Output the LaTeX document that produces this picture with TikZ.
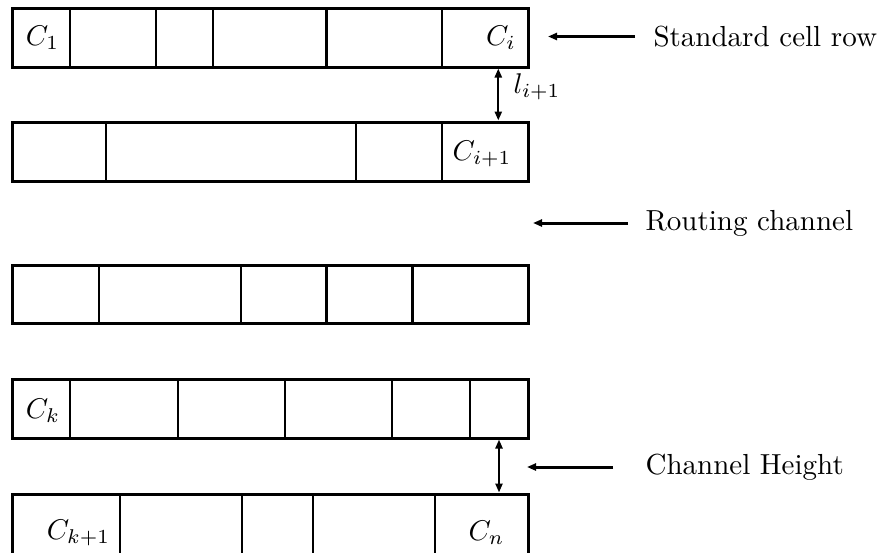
\documentclass[tikz,border=0pt]{standalone}
\usetikzlibrary{arrows.meta}
\begin{document}
\begin{tikzpicture}[x=1pt,y=-1pt,
  rowbox/.style={draw, line width=3pt, minimum width=516pt, inner sep=0pt},
  divider/.style={line width=2.3pt},
  cellname/.style={scale=2.85, inner sep=0pt, anchor=base},
  caption/.style={scale=2.9, inner sep=0pt, anchor=west},
  pointer/.style={line width=3pt, -{Triangle[length=9pt,width=7pt]}},
  gap/.style={line width=2.2pt, {Triangle[length=9pt,width=7pt]}-{Triangle[length=9pt,width=7pt]}},
]
\useasboundingbox (0,0) rectangle (883,552);

% cell rows
\node[rowbox, minimum height=59pt] (r1) at (270,37.5) {};
\node[rowbox, minimum height=59pt] (r2) at (270,151.5) {};
\node[rowbox, minimum height=58pt] (r3) at (270,294) {};
\node[rowbox, minimum height=59pt] (r4) at (270,408.5) {};
\node[rowbox, minimum height=62pt] (r5) at (270,525) {};

% cell boundaries inside the rows
\foreach \x in {70,156,213,326.5,442} \draw[divider] (\x,8) -- (\x,67);
\foreach \x in {105.7,355.7,441.8} \draw[divider] (\x,122) -- (\x,181);
\foreach \x in {98.8,241,326.4,412.5} \draw[divider] (\x,265) -- (\x,323);
\foreach \x in {70,177.7,284.8,391.9,470} \draw[divider] (\x,379.5) -- (\x,438);
\foreach \x in {119.8,241.7,312.7,435} \draw[divider] (\x,494) -- (\x,556);

% cell names
\node[cellname] (c1) at (42.5,45.5) {$C_1$};
\node[cellname] (ci) at (501,45) {$C_i$};
\node[cellname] (ci1) at (482,160) {$C_{i+1}$};
\node[cellname] (ck) at (43,418) {$C_k$};
\node[cellname] (ck1) at (78.5,539) {$C_{k+1}$};
\node[cellname] (cn) at (486.5,540) {$C_n$};

% row spacing markers
\coordinate (g1) at (498.3,0);
\coordinate (g2) at (499,0);
\draw[gap] (r1.south -| g1) -- (r2.north -| g1);
\draw[gap] (r4.south -| g2) -- (r5.north -| g2);
\node[cellname, anchor=base west] (li) at (513,93) {$l_{i+1}$};

% captions with pointers
\node[caption] (cap1) at (653,36.5) {Standard cell row};
\node[caption] (cap2) at (645,223) {Routing channel};
\node[caption] (cap3) at (645,467) {Channel Height};
\coordinate (t1) at (548,0);
\coordinate (t2) at (533,0);
\coordinate (t3) at (527,0);
\draw[pointer, shorten <=18pt] (cap1.west) -- (cap1.west -| t1);
\draw[pointer, shorten <=17pt] (cap2.west) -- (cap2.west -| t2);
\draw[pointer, shorten <=32pt] (cap3.west) -- (cap3.west -| t3);
\end{tikzpicture}
\end{document}
